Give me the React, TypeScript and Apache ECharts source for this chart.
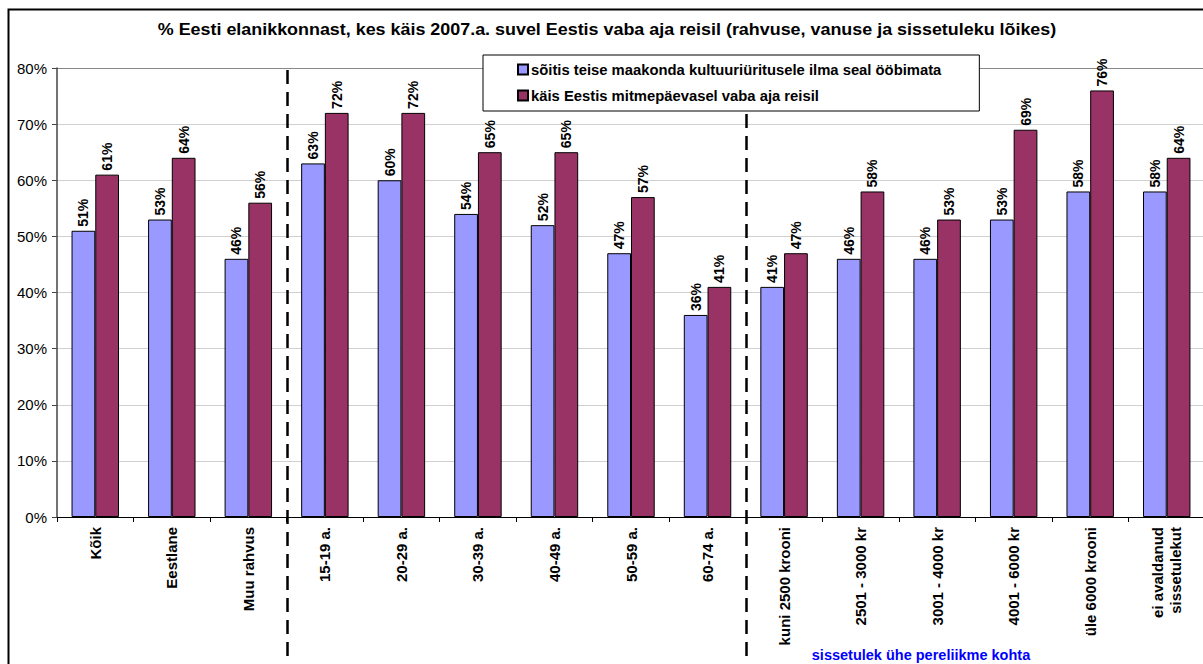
import React, { useEffect, useRef } from "react";
import * as echarts from "echarts";

const categories = [
  "Kõik",
  "Eestlane",
  "Muu rahvus",
  "15-19 a.",
  "20-29 a.",
  "30-39 a.",
  "40-49 a.",
  "50-59 a.",
  "60-74 a.",
  "kuni 2500 krooni",
  "2501 - 3000 kr",
  "3001 - 4000 kr",
  "4001 - 6000 kr",
  "üle 6000 krooni",
  "ei avaldanud\nsissetulekut",
];
const seriesNames = [
  "sõitis teise maakonda kultuuriüritusele ilma seal ööbimata",
  "käis Eestis mitmepäevasel vaba aja reisil",
];
const culturalTrip = [51, 53, 46, 63, 60, 54, 52, 47, 36, 41, 46, 46, 53, 58, 58];
const multiDayTrip = [61, 64, 56, 72, 72, 65, 65, 57, 41, 47, 58, 53, 69, 76, 64];
const separatorsAfter = [2, 8];
const titleText =
  "% Eesti elanikkonnast, kes käis 2007.a. suvel Eestis vaba aja reisil (rahvuse, vanuse ja sissetuleku lõikes)";
const incomeNote = "sissetulek ühe pereliikme kohta";

const FONT = "'Liberation Sans', Arial, Helvetica, sans-serif";

export default function App() {
  const ref = useRef<HTMLDivElement>(null);
  useEffect(() => {
    if (!ref.current) return;
    const chart = echarts.init(ref.current, null, { renderer: "svg" });
    const label = {
      show: true,
      position: "top",
      rotate: 90,
      align: "left",
      verticalAlign: "middle",
      distance: 4,
      fontFamily: FONT,
      fontWeight: "bold",
      fontSize: 14,
      color: "#000",
      formatter: (p: any) => p.value + "%",
    };
    chart.setOption({
      animation: false,
      backgroundColor: "#fff",
      textStyle: { fontFamily: FONT },
      grid: { left: 57, right: 15, top: 68, bottom: 147, containLabel: false },
      legend: {
        left: 483,
        top: 55,
        z: 10,
        orient: "vertical",
        backgroundColor: "#fff",
        borderColor: "#000",
        borderWidth: 1,
        padding: [7, 38, 8, 34],
        itemGap: 11,
        itemWidth: 10,
        itemHeight: 10,
        icon: "rect",
        textStyle: { fontFamily: FONT, fontWeight: "bold", fontSize: 14.8, color: "#000", padding: [0, 0, 0, -2] },
        data: seriesNames,
      },
      xAxis: {
        type: "category",
        data: categories,
        axisLine: { lineStyle: { color: "#000", width: 1 } },
        axisTick: { show: true, interval: 0, length: 5, lineStyle: { color: "#000" } },
        axisLabel: {
          interval: 0,
          rotate: 90,
          margin: 10,
          fontFamily: FONT,
          fontWeight: "bold",
          fontSize: 15,
          color: "#000",
          lineHeight: 18,
        },
      },
      yAxis: {
        type: "value",
        min: 0,
        max: 80,
        interval: 10,
        axisLine: { show: true, lineStyle: { color: "#444", width: 1.5 } },
        axisTick: { show: true, length: 5, lineStyle: { color: "#444" } },
        axisLabel: {
          formatter: "{value}%",
          margin: 10,
          fontFamily: FONT,
          fontSize: 15,
          color: "#000",
        },
        splitLine: {
          show: true,
          lineStyle: {
            color: ["#d0d0d0", "#d0d0d0", "#d0d0d0", "#d0d0d0", "#d0d0d0", "#d0d0d0", "#d0d0d0", "#d0d0d0", "#888"],
            width: 1,
          },
        },
      },
      series: [
        {
          name: seriesNames[0],
          type: "bar",
          data: culturalTrip,
          barGap: "0%",
          barCategoryGap: "38%",
          itemStyle: { color: "#9999FF", borderColor: "#000", borderWidth: 1 },
          label,
        },
        {
          name: seriesNames[1],
          type: "bar",
          data: multiDayTrip,
          barGap: "0%",
          barCategoryGap: "38%",
          itemStyle: { color: "#993366", borderColor: "#000", borderWidth: 1 },
          label,
        },
      ],
    });
    const sepXs = separatorsAfter.map(
      (i) =>
        ((chart.convertToPixel({ xAxisIndex: 0 }, i) as number) +
          (chart.convertToPixel({ xAxisIndex: 0 }, i + 1) as number)) /
        2
    );
    const topY = chart.convertToPixel({ yAxisIndex: 0 }, 80) as number;
    chart.setOption({
      graphic: [
        {
          type: "rect",
          silent: true,
          shape: { x: 8.5, y: 9.5, width: 1400, height: 800 },
          style: { fill: "none", stroke: "#000", lineWidth: 2 },
          z: 100,
        },
        {
          type: "text",
          x: 607,
          y: 30,
          scaleX: 1.12,
          style: {
            text: titleText,
            font: `bold 16px ${FONT}`,
            fill: "#000",
            align: "center",
            verticalAlign: "middle",
          },
        },
        ...sepXs.map((x) => ({
          type: "line",
          silent: true,
          shape: { x1: Math.round(x) + 0.5, y1: topY + 2, x2: Math.round(x) + 0.5, y2: 700 },
          style: { stroke: "#000", lineWidth: 2.5, lineDash: [14, 8] },
          z: 3,
        })),
        {
          type: "text",
          x: 921,
          y: 655,
          style: {
            text: incomeNote,
            font: `bold 14.5px ${FONT}`,
            fill: "#0000FF",
            align: "center",
            verticalAlign: "middle",
          },
        },
      ],
    });
    return () => chart.dispose();
  }, []);
  return (
    <div style={{ position: "fixed", left: 0, top: 0, width: 1203, height: 664, overflow: "hidden", background: "#fff" }}>
      <div ref={ref} style={{ width: 1220, height: 664 }} />
    </div>
  );
}
